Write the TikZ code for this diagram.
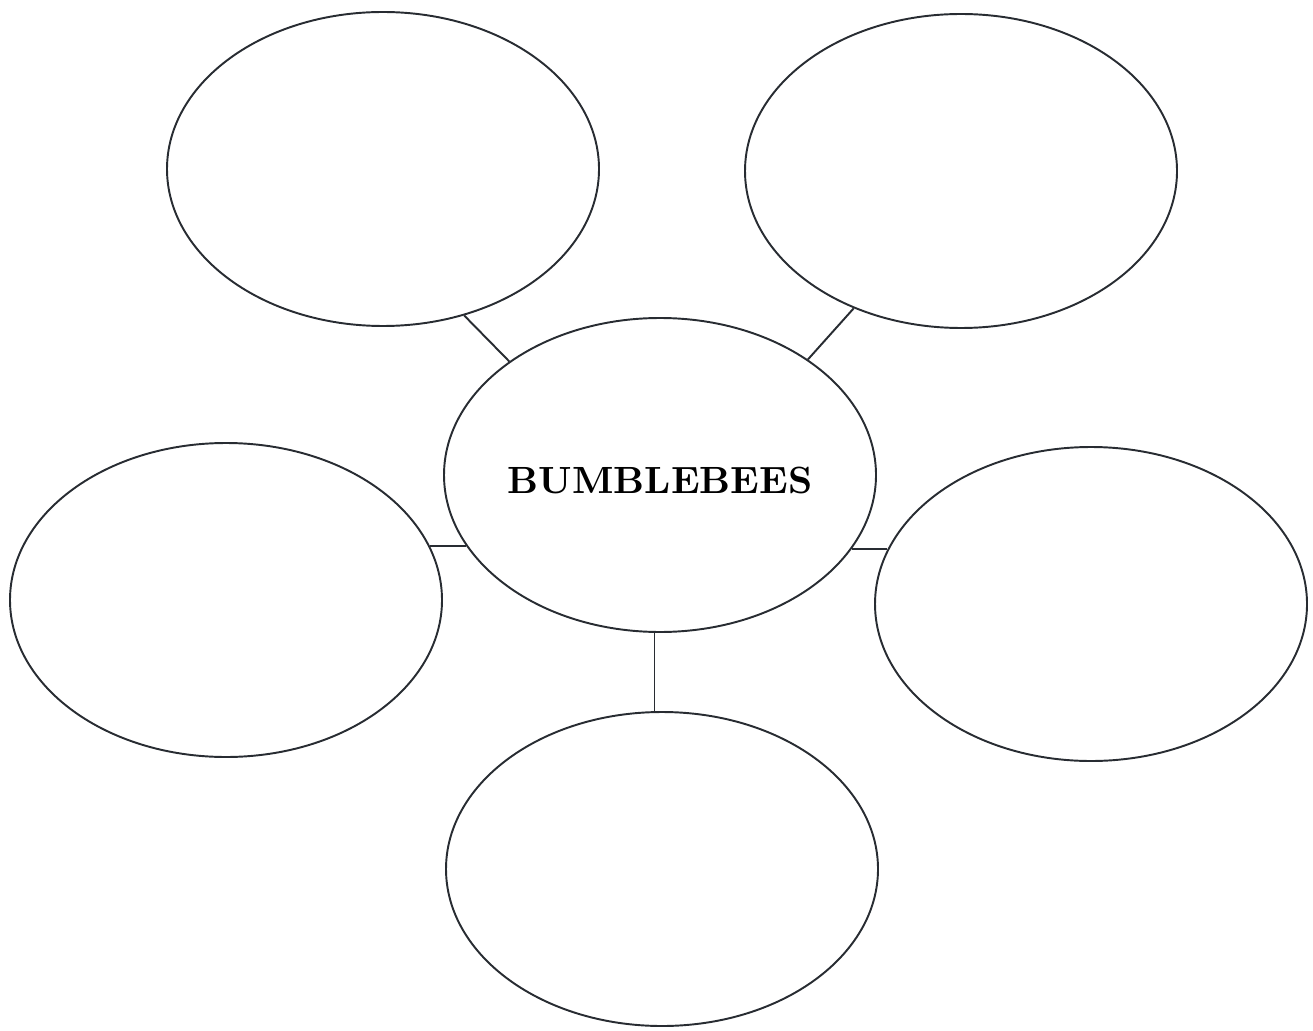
\documentclass[tikz,border=0pt]{standalone}
\usepackage{tikz}
\usetikzlibrary{shapes.geometric}
\definecolor{inkgray}{RGB}{40, 44, 50}

\begin{document}
\begin{tikzpicture}[x=0.1mm, y=-0.1mm,
    bubble/.style={ellipse, draw=inkgray, line width=0.55pt, inner sep=0pt,
                   minimum width=43.2mm, minimum height=31.4mm},
    link/.style={draw=inkgray, line width=0.55pt}
  ]
  \useasboundingbox (0,0) rectangle (1313,1030);

  \node[bubble, label={[font=\fontsize{10.8}{13}\selectfont\bfseries, yshift=-0.5mm]center:BUMBLEBEES}] (centre) at (660,475) {};
  \node[bubble] (topleft) at (383,169) {};
  \node[bubble] (topright) at (961,171) {};
  \node[bubble] (left) at (226,600) {};
  \node[bubble] (right) at (1091,604) {};
  \node[bubble] (bottom) at (662,869) {};

  \draw[link] (topleft.299.5) -- (centre.143.6);
  \draw[link] (topright.232.1) -- (centre.38.8);
  \draw[link] (left.15.2 |- centre.200.6) -- (centre.200.6);
  \draw[link] (right.165.4 |- centre.339.1) -- (centre.339.1);
  \draw[link] (centre.268.8) -- (centre.268.8 |- bottom.north);
\end{tikzpicture}
\end{document}
